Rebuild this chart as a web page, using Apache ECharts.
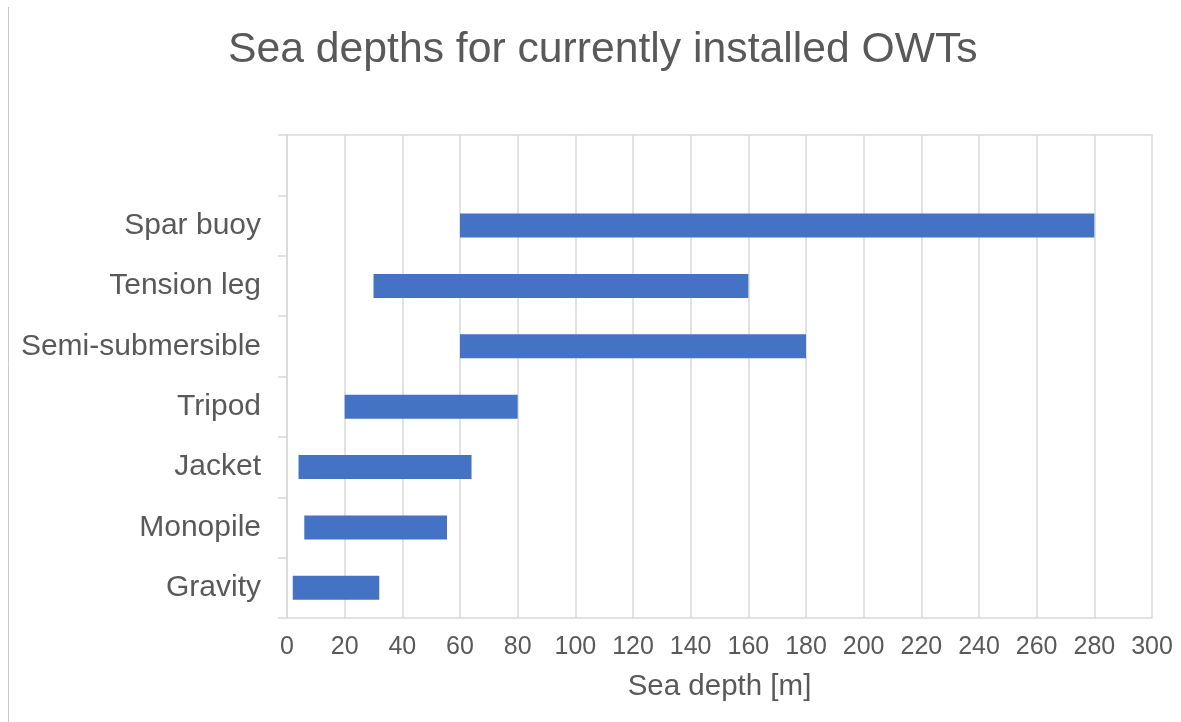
<!DOCTYPE html>
<html><head><meta charset="utf-8">
<script src="https://cdn.jsdelivr.net/npm/echarts@6/dist/echarts.min.js"></script>
<style>html,body{margin:0;padding:0;background:#fff}#c{width:1181px;height:722px}</style>
</head><body><div id="c"></div>
<script>
const categories = ['Gravity','Monopile','Jacket','Tripod','Semi-submersible','Tension leg','Spar buoy',''];
const depthStart = [2, 6, 4, 20, 60, 30, 60, null];
const depthEnd = [32, 55.5, 64, 80, 180, 160, 280, null];
const xTicks = {min: 0, max: 300, interval: 20};

const lengths = depthStart.map((s, i) => (s == null ? '-' : depthEnd[i] - s));
const bases = depthStart.map(s => (s == null ? '-' : s));
const FONT = 'Liberation Sans, Arial, sans-serif';
const TXT = '#595959';
const GRID = '#d9d9d9';

const chart = echarts.init(document.getElementById('c'), null, {renderer: 'canvas'});
chart.setOption({
  animation: false,
  backgroundColor: '#fff',
  title: {
    text: 'Sea depths for currently installed OWTs',
    left: 223, top: 24,
    textStyle: {fontFamily: FONT, fontSize: 42.7, fontWeight: 'normal', color: TXT}
  },
  grid: {left: 287, right: 29, top: 135, bottom: 104, containLabel: false},
  xAxis: [{
    type: 'value', min: xTicks.min, max: xTicks.max, interval: xTicks.interval,
    axisLine: {show: true, lineStyle: {color: GRID, width: 1.5}},
    axisTick: {show: false},
    axisLabel: {fontFamily: FONT, fontSize: 25, color: TXT, margin: 17},
    splitLine: {show: true, lineStyle: {color: GRID, width: 1.5}},
    name: 'Sea depth [m]', nameLocation: 'middle', nameGap: 54,
    nameTextStyle: {fontFamily: FONT, fontSize: 29.5, color: TXT}
  }, {
    type: 'value', position: 'top', min: xTicks.min, max: xTicks.max, interval: xTicks.interval,
    axisLine: {show: true, lineStyle: {color: GRID, width: 1.5}},
    axisTick: {show: false}, axisLabel: {show: false}, splitLine: {show: false}
  }],
  yAxis: {
    type: 'category', data: categories,
    axisLine: {show: true, lineStyle: {color: GRID, width: 1.5}},
    axisTick: {show: true, length: 9, lineStyle: {color: GRID, width: 1.5}},
    axisLabel: {fontFamily: FONT, fontSize: 30, color: TXT, margin: 26, padding: [4, 0, 0, 0]},
    splitLine: {show: false}
  },
  graphic: [{
    type: 'line', shape: {x1: 8.5, y1: 7, x2: 8.5, y2: 722},
    style: {stroke: '#c8c8c8', lineWidth: 1}
  }],
  series: [{
    type: 'bar', stack: 'range', data: bases, barWidth: 24,
    itemStyle: {color: 'transparent'}, silent: true
  }, {
    type: 'bar', stack: 'range', data: lengths, barWidth: 24,
    itemStyle: {color: '#4472C4'}
  }]
});
</script>
</body></html>
